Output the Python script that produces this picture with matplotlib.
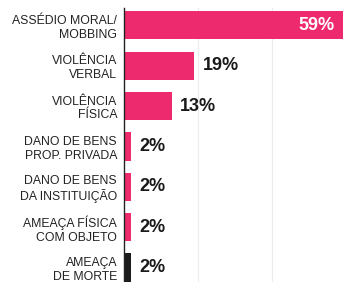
import matplotlib.pyplot as plt

# --- dados ---
categorias = ['ASSÉDIO MORAL/\nMOBBING', 'VIOLÊNCIA\nVERBAL', 'VIOLÊNCIA\nFÍSICA',
              'DANO DE BENS\nPROP. PRIVADA', 'DANO DE BENS\nDA INSTITUIÇÃO',
              'AMEAÇA FÍSICA\nCOM OBJETO', 'AMEAÇA\nDE MORTE']
valores = [59, 19, 13, 2, 2, 2, 2]
cores = ['#ee2a6e'] * 6 + ['#1c1c1c']

fig = plt.figure(figsize=(3.45, 2.82), dpi=100)
ax = fig.add_axes([124 / 345, 0, 1 - 124 / 345, 1 - 8 / 282])

pos = list(range(len(valores)))
ax.barh(pos, valores, height=0.7, color=cores, zorder=2)

# linhas de fundo bem claras
for g in [20, 40]:
    ax.axvline(g, color='#ececec', lw=0.8, zorder=1)

ax.set_xlim(0, 59.6)
ax.set_ylim(6.36, -0.43)

for s in ['top', 'right', 'bottom']:
    ax.spines[s].set_visible(False)
ax.spines['left'].set_color('#222222')
ax.spines['left'].set_linewidth(1.0)
ax.set_xticks([])
ax.set_yticks(pos)
ax.set_yticklabels(categorias, fontsize=8.8, color='#222222',
                   family='Liberation Sans', linespacing=1.2)
ax.tick_params(axis='y', length=0, pad=5)

for i, v in enumerate(valores):
    if v > 40:
        ax.text(v - 2.3, i, f'{v}%', ha='right', va='center', color='white',
                fontsize=13, fontweight='bold', family='Liberation Sans')
    else:
        ax.text(v + 2.2, i, f'{v}%', ha='left', va='center', color='#1a1a1a',
                fontsize=13, fontweight='bold', family='Liberation Sans')

fig.savefig('out.png', dpi=100)
